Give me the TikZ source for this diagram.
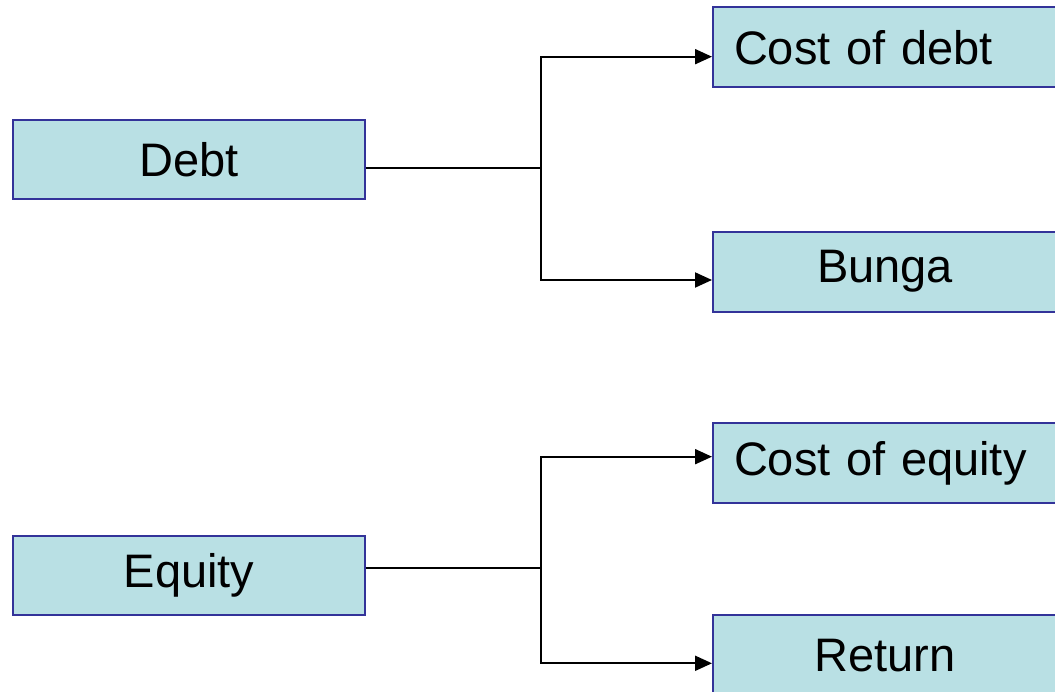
\documentclass[tikz,border=0pt]{standalone}
\usepackage{fontspec}
\setmainfont{Liberation Sans}
\usetikzlibrary{arrows.meta}
\definecolor{boxfill}{RGB}{185,224,228}
\definecolor{boxline}{RGB}{51,51,153}
\tikzset{leftbox/.style={draw=boxline,fill=boxfill,line width=2pt,minimum width=352pt,minimum height=79pt,inner sep=0pt,font=\fontsize{47}{56}\selectfont},
         rightbox/.style={leftbox,minimum width=0pt,text width=302pt,inner xsep=21pt,minimum height=80pt,align=center},
         link/.style={line width=2pt,-{Triangle[length=17pt,width=15pt]}}}

\begin{document}
\begin{tikzpicture}[x=1pt,y=1pt]
                  \useasboundingbox (0,0) rectangle (1055,692);
                  \node[leftbox] (debt) at (189,532.7) {Debt};
                  \node[leftbox] (equity) at (189,116.7) {Equity};
                  \node[rightbox,align=left,anchor=west] (costdebt) at (712,644.7) {Cost of debt};
                  \node[rightbox,anchor=west] (bunga) at (712,420.3) {Bunga};
                  \node[rightbox,align=left,anchor=west] (costequity) at (712,228.7) {Cost of equity};
                  \node[rightbox,anchor=west] (return) at (712,36.5) {Return};
                  \coordinate (debtfork) at (541,523.7);
                  \coordinate (equityfork) at (541,124.3);
                  \draw[line width=2pt] (debt.east |- debtfork) -- (debtfork);
                  \draw[link] (debtfork) |- ([yshift=-9.4pt]costdebt.west);
                  \draw[link] (debtfork) |- ([yshift=-8.3pt]bunga.west);
                  \draw[line width=2pt] (equity.east |- equityfork) -- (equityfork);
                  \draw[link] (equityfork) |- ([yshift=6.6pt]costequity.west);
                  \draw[link] (equityfork) |- ([yshift=-7.8pt]return.west);
              \end{tikzpicture}
\end{document}
